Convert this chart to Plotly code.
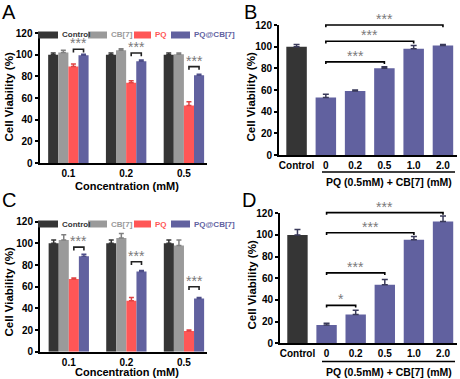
import plotly.graph_objects as go

# ---------------- data ----------------
conc_labels = ["0.1", "0.2", "0.5"]
series_names = ["Control", "CB[7]", "PQ", "PQ@CB[7]"]

# Panel A
a_control = [100, 100, 100]
a_control_err = [1.5, 1.5, 1.5]
a_cb7 = [102, 104, 100.5]
a_cb7_err = [2, 1.5, 1]
a_pq = [89, 74, 53]
a_pq_err = [2.5, 2, 3.5]
a_pqcb7 = [99.5, 94, 81]
a_pqcb7_err = [1, 1, 1]

# Panel C
c_control = [100, 100, 100]
c_control_err = [3, 3, 3]
c_cb7 = [103, 105, 98]
c_cb7_err = [5, 4, 5]
c_pq = [67, 47, 19]
c_pq_err = [1, 3, 1]
c_pqcb7 = [88, 74, 49]
c_pqcb7_err = [2, 1, 1]

# Panels B and D
dose_labels = ["Control", "0", "0.2", "0.5", "1.0", "2.0"]
b_vals = [100, 53, 59, 80, 98, 101]
b_err = [2, 3, 1, 1.5, 3, 1]
d_vals = [100, 17, 26.5, 54, 95.5, 112.5]
d_err = [5, 1.5, 4, 5, 3, 5]

# significance: (group index, bracket y, label)
a_sig = [(0, 105, "***"), (1, 101.5, "***"), (2, 89, "***")]
c_sig = [(0, 96.5, "***"), (1, 83, "***"), (2, 60, "***")]
# (from category, to category, bracket y, label)
b_sig = [(1, 3, 86, "***"), (1, 4, 105, "***"), (1, 5, 120, "***")]
d_sig = [(1, 2, 35, "*"), (1, 3, 65, "***"), (1, 4, 102, "***"), (1, 5, 120.6, "***")]

# ---------------- style ----------------
C_CTRL = "#353535"
C_CB7 = "#9a9a9a"
C_PQ = "#ff5656"
C_PQCB = "#61619f"
colors = [C_CTRL, C_CB7, C_PQ, C_PQCB]
ERR_COL = [C_CTRL, "#808080", "#e04444", "#4e4e88"]
STAR = "#7a7a7a"
FONT = "Liberation Sans"
W, H = 460, 379
Y_MAX = 120

def px_x(p):
    return p / W

def px_y(p):
    return 1 - p / H

DOM_A = [px_y(163), px_y(33)]
DOM_B = [px_y(155), px_y(25)]
DOM_C = [px_y(351.7), px_y(221.7)]
DOM_D = [px_y(343.3), px_y(213.3)]

fig = go.Figure()

def add_grouped(vals_list, errs_list, xa, ya):
    for i, (v, e) in enumerate(zip(vals_list, errs_list)):
        fig.add_trace(go.Bar(
            x=list(range(len(conc_labels))), y=v,
            marker=dict(color=colors[i], line=dict(width=0)),
            error_y=dict(type="data", array=e, arrayminus=[0] * len(e), symmetric=False,
                         color=ERR_COL[i], thickness=1.5, width=2.5),
            name=series_names[i], showlegend=False, xaxis=xa, yaxis=ya,
            offsetgroup=str(i),
        ))

add_grouped([a_control, a_cb7, a_pq, a_pqcb7],
            [a_control_err, a_cb7_err, a_pq_err, a_pqcb7_err], "x", "y")
add_grouped([c_control, c_cb7, c_pq, c_pqcb7],
            [c_control_err, c_cb7_err, c_pq_err, c_pqcb7_err], "x3", "y3")

dose_colors = [C_CTRL] + [C_PQCB] * (len(dose_labels) - 1)
for vals, errs, xa, ya in [(b_vals, b_err, "x2", "y2"), (d_vals, d_err, "x4", "y4")]:
    fig.add_trace(go.Bar(
        x=list(range(len(dose_labels))), y=vals,
        marker=dict(color=dose_colors, line=dict(width=0)),
        error_y=dict(type="data", array=errs, arrayminus=[0] * len(errs), symmetric=False,
                     color="#3a3a5a", thickness=1.5, width=3),
        showlegend=False, xaxis=xa, yaxis=ya, cliponaxis=False,
    ))

shapes = []
annotations = []

# grouped-bar bracket positions
bw = 0.7 / 4
pq_off = -0.35 + bw * 2.5
pqcb_off = -0.35 + bw * 3.5
STAR_GAP = 5.5

def bracket(xa, dom, x0, x1, y, tick, label, color="black"):
    def py(v):
        return dom[0] + v / Y_MAX * (dom[1] - dom[0])
    path = (f"M {x0},{py(y - tick)} L {x0},{py(y)} L {x1},{py(y)} L {x1},{py(y - tick)}")
    shapes.append(dict(type="path", path=path, xref=xa, yref="paper",
                       line=dict(color=color, width=1.6)))
    annotations.append(dict(x=(x0 + x1) / 2, y=py(y + STAR_GAP), xref=xa, yref="paper",
                            text=label, showarrow=False, yanchor="middle",
                            font=dict(family=FONT, size=14, color=STAR)))

for g, y, lab in a_sig:
    bracket("x", DOM_A, g + pq_off, g + pqcb_off, y, 3, lab, color="#222222")
for g, y, lab in c_sig:
    bracket("x3", DOM_C, g + pq_off, g + pqcb_off, y, 3, lab, color="#222222")
for x0, x1, y, lab in b_sig:
    bracket("x2", DOM_B, x0, x1, y, 2, lab)
for x0, x1, y, lab in d_sig:
    bracket("x4", DOM_D, x0, x1, y, 2, lab)

# manual legends (A and C)
leg_items = [(38, 58, 60, "Control"), (88, 107, 109, "CB[7]"),
             (134, 151, 153, "PQ"), (171, 190, 192, "PQ@CB[7]")]
for cy in (35, 224):
    for i, (r0, r1, tx, name) in enumerate(leg_items):
        shapes.append(dict(type="rect", xref="paper", yref="paper",
                           x0=px_x(r0), x1=px_x(r1), y0=px_y(cy + 3.5), y1=px_y(cy - 3.5),
                           fillcolor=colors[i], line=dict(width=0)))
        annotations.append(dict(x=px_x(tx), y=px_y(cy), xref="paper", yref="paper",
                                text=f"<b>{name}</b>", showarrow=False,
                                xanchor="left", yanchor="middle",
                                font=dict(family=FONT, size=8, color=colors[i])))

# B/D sub-axis line + label
for line_y, text_y in ((172, 182), (361.5, 371.5)):
    shapes.append(dict(type="line", xref="paper", yref="paper",
                       x0=px_x(322), x1=px_x(455), y0=px_y(line_y), y1=px_y(line_y),
                       line=dict(color="black", width=1.5)))
    annotations.append(dict(x=px_x(389), y=px_y(text_y), xref="paper", yref="paper",
                            text="<b>PQ (0.5mM) + CB[7] (mM)</b>", showarrow=False,
                            xanchor="center", yanchor="middle",
                            font=dict(family=FONT, size=10.5, color="black")))

# x titles for A and C
for x, y in ((127, 186), (127, 372)):
    annotations.append(dict(x=px_x(x), y=px_y(y), xref="paper", yref="paper",
                            text="<b>Concentration (mM)</b>", showarrow=False,
                            xanchor="center", yanchor="middle",
                            font=dict(family=FONT, size=11, color="black")))

# y titles
for x, y in ((8.5, 97), (250.5, 97), (8.5, 292), (251.5, 285)):
    annotations.append(dict(x=px_x(x), y=px_y(y), xref="paper", yref="paper",
                            text="<b>Cell Viability (%)</b>", showarrow=False, textangle=-90,
                            xanchor="center", yanchor="middle",
                            font=dict(family=FONT, size=11.5, color="black")))

# panel letters
for lab, x, y in (("A", 9, 12.5), ("B", 251, 12), ("C", 9, 200), ("D", 249, 200)):
    annotations.append(dict(x=px_x(x), y=px_y(y), xref="paper", yref="paper", text=lab,
                            showarrow=False, xanchor="center", yanchor="middle",
                            font=dict(family=FONT, size=20, color="black")))

axis_common = dict(showline=True, linecolor="black", linewidth=2,
                   showgrid=False, zeroline=False, automargin=False,
                   tickfont=dict(family=FONT, size=10, color="black"))

def yaxis(dom, anchor):
    return dict(domain=dom, anchor=anchor, range=[0, Y_MAX], tickvals=[0, 20, 40, 60, 80, 100, 120],
                ticktext=[f"<b>{v}</b>" for v in [0, 20, 40, 60, 80, 100, 120]],
                ticks="outside", ticklen=3, tickwidth=1.5, tickcolor="black",
                **axis_common)

def xaxis_conc(dom, anchor):
    return dict(domain=dom, anchor=anchor, range=[-0.5, 2.4], tickvals=[0, 1, 2],
                ticktext=[f"<b>{c}</b>" for c in conc_labels], ticks="",
                **axis_common)

def xaxis_dose(dom, anchor):
    return dict(domain=dom, anchor=anchor, range=[-0.6, 5.48],
                tickvals=list(range(len(dose_labels))), ticks="",
                ticktext=[f"<b>{c}</b>" for c in dose_labels], **axis_common)

fig.update_layout(
    width=W, height=H, margin=dict(l=0, r=0, t=0, b=0),
    paper_bgcolor="white", plot_bgcolor="white",
    barmode="group", bargap=0.3, bargroupgap=0,
    font=dict(family=FONT, color="black"),
    xaxis=xaxis_conc([39.5 / W, 207 / W], "y"),
    yaxis=yaxis(DOM_A, "x"),
    xaxis2=xaxis_dose([279 / W, 457 / W], "y2"),
    yaxis2=yaxis(DOM_B, "x2"),
    xaxis3=xaxis_conc([40 / W, 207 / W], "y3"),
    yaxis3=yaxis(DOM_C, "x3"),
    xaxis4=xaxis_dose([280 / W, 457 / W], "y4"),
    yaxis4=yaxis(DOM_D, "x4"),
    shapes=shapes, annotations=annotations,
)

fig.write_html("out.html", config={"displayModeBar": False},
               post_script="document.body.style.margin='0';document.body.style.overflow='hidden';")
